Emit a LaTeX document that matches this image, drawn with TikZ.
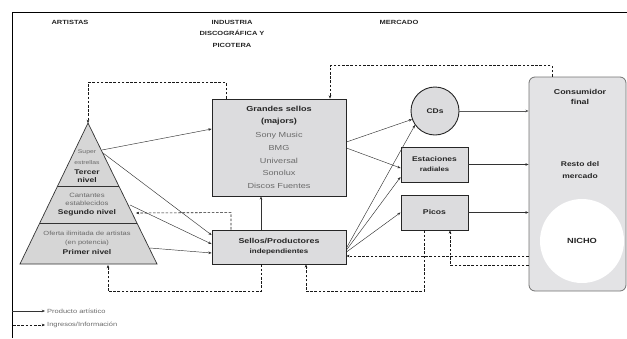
\documentclass[tikz,border=0pt]{standalone}
\usepackage{fontspec}
\setmainfont[FakeStretch=1.25]{Liberation Sans}
\usetikzlibrary{arrows.meta,calc}
\definecolor{boxfill}{HTML}{DCDCDE}
\definecolor{pyrfill}{HTML}{D6D6D6}
\definecolor{txtgray}{HTML}{6A6A6A}
\definecolor{txtdark}{HTML}{262626}
\newcommand{\myfs}[2]{\fontsize{#1}{#2}\selectfont}
\begin{document}
\begin{tikzpicture}[x=1pt,y=-1pt,
  box/.style={draw=black!85, line width=0.9pt, fill=boxfill, inner sep=0pt, align=center, text=txtdark},
  prod/.style={-{Stealth[length=3.2pt,width=2.6pt]}, line width=0.45pt, draw=black!80},
  ingr/.style={-{Stealth[length=3.2pt,width=2.6pt]}, line width=0.6pt, draw=black!90, dash pattern=on 2.6pt off 1.6pt},
  hdr/.style={font=\bfseries\myfs{6}{11.5}, align=center, text=txtdark, inner sep=0pt},
  ptxt/.style={font=\myfs{6}{9.5}, align=center, text=txtgray, inner sep=0pt},
  pbold/.style={font=\bfseries\myfs{6.8}{8.3}, align=center, text=txtdark, inner sep=0pt},
  btxt/.style={font=\bfseries\myfs{7}{11}, align=center, text=txtdark, inner sep=0pt},
  legtxt/.style={font=\myfs{6}{7}, text=txtgray, inner sep=0pt}
]
\useasboundingbox (0,0) rectangle (627,338);
% frame
\draw[line width=1pt, black] (12,338) -- (12,12) -- (627,12);

% headers
\node[hdr] (hA) at (70,22) {ARTISTAS};
\node[hdr] (hB) at (232,33.5) {INDUSTRIA\\DISCOGRÁFICA Y\\PICOTERA};
\node[hdr] (hC) at (399,22) {MERCADO};

% pyramid
\coordinate (apex) at (88,123);
\coordinate (bl) at (20,264);
\coordinate (br) at (157,264);
\draw[fill=pyrfill, draw=black!80, line width=0.7pt] (apex) -- (br) -- (bl) -- cycle;
\draw[draw=black!80, line width=0.7pt] ($(apex)!0.447!(bl)$) -- ($(apex)!0.447!(br)$);
\draw[draw=black!80, line width=0.7pt] ($(apex)!0.709!(bl)$) -- ($(apex)!0.709!(br)$);
\node[ptxt, font=\myfs{5.4}{10.5}] (super) at (87,157) {Super\\estrellas};
\node[pbold] (tercer) at (87,176.5) {Tercer\\nivel};
\node[ptxt, font=\myfs{6.2}{8.5}] (cant) at (87,199.5) {Cantantes\\establecidos};
\node[pbold] (seg) at (87,212.5) {Segundo nivel};
\node[ptxt] (ofe) at (87,238.5) {Oferta ilimitada de artistas\\(en potencia)};
\node[pbold] (prim) at (87,252.5) {Primer nivel};

% industry boxes
\node[box, minimum width=134pt, minimum height=97pt, font=\myfs{7.3}{12.7}, text=txtgray] (grandes) at (279,147.5)
  {\textcolor{txtdark}{\bfseries Grandes sellos}\\[-0.8pt]\textcolor{txtdark}{\bfseries (majors)}\\[1.5pt]
   Sony Music\\BMG\\Universal\\Sonolux\\Discos Fuentes};
\node[box, minimum width=134pt, minimum height=34pt, font=\bfseries\myfs{7.1}{10}] (sellos) at (279,247)
  {Sellos/Productores\\{\myfs{6.4}{10}independientes}};

% market
\node[circle, draw=black!85, line width=0.9pt, fill=boxfill, minimum size=48pt, inner sep=0pt,
      font=\bfseries\myfs{6.8}{8}, text=txtdark] (cds) at (435,111) {CDs};
\node[box, minimum width=67pt, minimum height=35pt, font=\bfseries\myfs{6.8}{10}] (estac) at (434.5,164.5)
  {Estaciones\\{\myfs{6.2}{10}radiales}};
\node[box, minimum width=67pt, minimum height=35pt, font=\bfseries\myfs{6.9}{8}] (picos) at (434.5,212.5) {Picos};

% consumer
\node[draw=black!55, line width=0.8pt, fill=boxfill!80, rounded corners=6pt,
      minimum width=97pt, minimum height=214pt, inner sep=0pt] (cons) at (577.5,184) {};
\node[btxt, font=\bfseries\myfs{7.1}{10.5}] (consT) at (580,97) {Consumidor\\final};
\node[btxt, font=\bfseries\myfs{6.8}{12}] (resto) at (580,170) {Resto del\\mercado};
\node[circle, fill=white, minimum size=84pt, inner sep=0pt, font=\bfseries\myfs{7.4}{8}, text=txtdark] (nicho) at (582,241) {NICHO};

% pyramid anchor coordinates
\coordinate (ps1) at (102,150);
\coordinate (ps2) at (103,153);
\coordinate (ps3) at (130,205);
\coordinate (ps4) at (150,248);
\coordinate (pin2) at (136,213);
\coordinate (pinb) at (108,265);

% product flows
\draw[prod] (ps1) -- (grandes.west |- 0,129);
\draw[prod] (ps2) -- (sellos.west |- 0,235);
\draw[prod] (ps3) -- (sellos.west |- 0,244);
\draw[prod] (ps4) -- (sellos.west |- 0,253);
\draw[prod, line width=0.6pt] (sellos.north -| 261,0) -- (grandes.south -| 261,0);
\draw[prod] (grandes.east |- 0,142) -- (cds.200);
\draw[prod] (grandes.east |- 0,148) -- (estac.west |- 0,168);
\draw[prod] (sellos.east |- 0,248) -- (cds.215);
\draw[prod] (sellos.east |- 0,250) -- (estac.west |- 0,177);
\draw[prod] (sellos.east |- 0,252) -- (picos.west);
\draw[prod, line width=0.9pt, draw=black!65] (cds.east) -- (cons.west |- cds.east);
\draw[prod, line width=0.6pt] (estac.east) -- (cons.west |- estac.east);
\draw[prod, line width=0.6pt] (picos.east) -- (cons.west |- picos.east);

% money / information flows
\draw[ingr] (grandes.north -| 226,0) -- ++(0,-16) -| (apex);
\draw[ingr] (cons.north -| 552,0) -- ++(0,-11) -| (grandes.north -| 330,0);
\draw[ingr] (sellos.north -| 231,0) -- ++(0,-17) -- (pin2);
\draw[ingr] (sellos.south -| 261,0) -- ++(0,27) -| (pinb);
\draw[ingr] (cons.west |- 0,256) -- (sellos.east |- 0,256);
\draw[ingr] (cons.west |- 0,265) -| (picos.south -| 450,0);
\draw[ingr] (picos.south -| 424,0) -- ++(0,61) -| (sellos.south -| 306,0);

% legend
\coordinate (l1a) at (12,311);
\coordinate (l1b) at (45,311);
\coordinate (l2a) at (13,325);
\coordinate (l2b) at (45,325);
\draw[prod, line width=0.6pt] (l1a) -- (l1b);
\draw[ingr] (l2a) -- (l2b);
\node[legtxt, anchor=west] (leg1) at (47,311) {Producto artístico};
\node[legtxt, anchor=west] (leg2) at (47,325) {Ingresos/Información};
\end{tikzpicture}
\end{document}
